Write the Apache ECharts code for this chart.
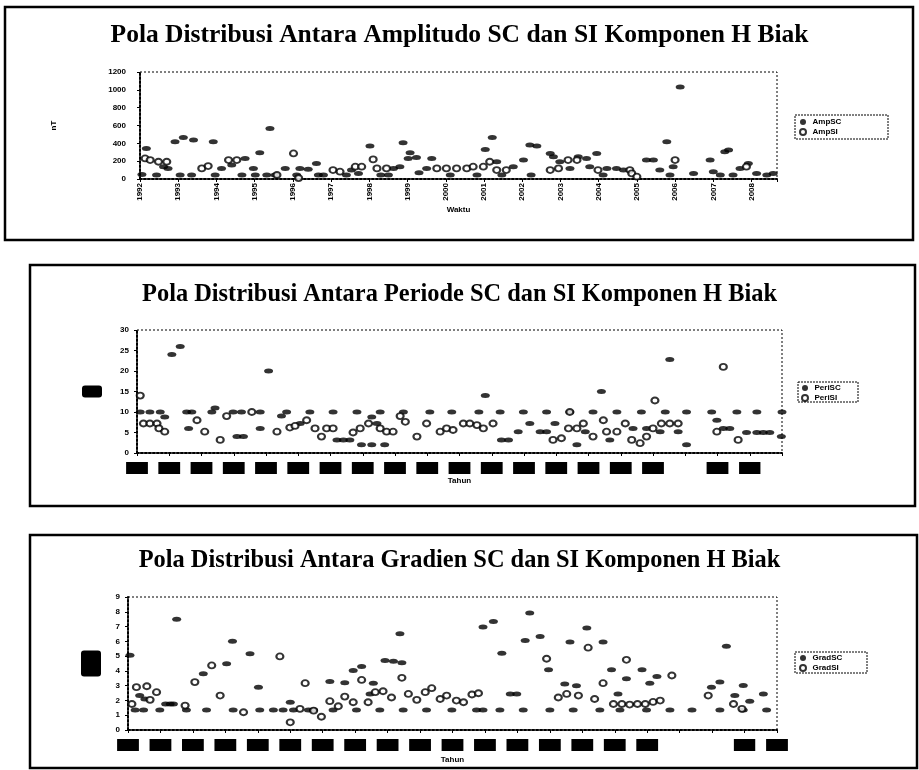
<!DOCTYPE html>
<html>
<head>
<meta charset="utf-8">
<title>Pola Distribusi SC dan SI Komponen H Biak</title>
<script src="https://cdn.jsdelivr.net/npm/echarts@6/dist/echarts.min.js"></script>
<style>
  html, body { margin: 0; padding: 0; background: #fff; }
  #chart { width: 919px; height: 770px; }
</style>
</head>
<body>
<div id="chart"></div>
<script>
// data: [posisi kejadian (0-100), nilai]
const ampSC = [[0.3,50],[1.0,343],[2.6,45],[3.7,138],[4.4,119],[5.5,417],[6.3,45],[6.8,465],[8.1,45],[8.4,436],
  [11.5,417],[11.8,45],[12.8,119],[14.4,156],[16.0,45],[16.5,231],[17.8,119],[18.1,45],[18.8,294],[19.9,45],
  [20.4,566],[21.2,45],[22.8,119],[24.6,45],[25.1,119],[26.4,108],[27.7,175],[28.0,45],[28.8,45],[32.4,45],
  [33.2,100],[34.3,63],[36.1,369],[37.8,45],[39.0,45],[39.8,119],[40.8,138],[41.3,406],[42.1,231],[42.4,294],
  [43.4,242],[43.8,71],[45.0,119],[45.8,231],[48.7,45],[52.9,45],[54.2,331],[55.3,465],[56.0,194],[56.8,45],
  [58.6,138],[60.2,212],[61.2,380],[61.4,45],[62.3,369],[64.4,287],[64.9,250],[65.9,194],[67.5,119],[68.8,250],
  [70.1,231],[70.6,138],[71.7,287],[72.7,45],[73.3,119],[74.8,119],[75.9,100],[79.5,212],[80.6,212],[81.6,100],
  [82.7,417],[83.2,45],[83.7,138],[84.8,1031],[86.9,63],[89.5,212],[90.0,82],[91.1,45],[91.8,305],[92.4,324],
  [93.1,45],[94.2,119],[95.5,175],[96.8,63],[98.4,45],[99.4,63]]
const ampSI = [[0.8,231],[1.6,212],[2.9,194],[4.2,194],[9.7,119],[10.7,145],[13.9,212],[15.2,212],[21.5,45],[24.1,287],
  [24.9,10],[30.3,100],[31.4,82],[33.8,138],[34.8,138],[36.6,220],[37.2,119],[38.7,119],[46.6,119],[48.1,119],
  [49.7,119],[51.3,119],[52.3,138],[53.9,138],[54.9,194],[56.0,100],[57.5,100],[64.4,100],[65.7,119],[67.2,212],
  [68.6,212],[71.9,100],[76.9,100],[77.2,63],[78.0,26],[84.0,212],[95.2,138]]

const periSC = [[0.5,10],[2.0,10],[3.6,10],[7.7,10],[8.5,10],[11.6,10],[14.9,10],[16.2,10],[19.1,10],[23.2,10],
  [26.8,10],[30.4,10],[34.1,10],[37.7,10],[41.3,10],[45.4,10],[48.8,10],[53.0,10],[56.3,10],[59.9,10],
  [63.5,10],[67.1,10],[70.7,10],[74.4,10],[78.2,10],[81.9,10],[85.2,10],[89.1,10],[93.0,10],[96.1,10],[100,10],
  [4.3,8.8],[5.4,24],[6.7,26],[8.0,6],[12.1,11],[15.5,4],[16.5,4],[19.1,6],[20.4,20],[22.4,9],
  [25.3,7.2],[31.0,3.2],[32.0,3.2],[33.0,3.2],[34.8,2],[36.4,2],[36.4,8.8],[37.2,7.2],[38.4,2],[54.0,14],
  [56.5,3.2],[57.6,3.2],[59.1,5.2],[60.9,7.2],[62.5,5.2],[63.5,5.2],[64.8,7.2],[68.2,2],[69.5,5.2],[72.0,15],
  [73.3,3.2],[76.9,6],[79.0,6],[81.1,5.2],[82.6,22.8],[83.9,5.2],[85.2,2],[89.9,8],[90.9,6],[91.9,6],
  [94.5,5],[96.1,5],[97.1,5],[98.1,5],[99.9,4]]
const periSI = [[0.5,14],[1.0,7.2],[2.0,7.2],[3.1,7.2],[3.4,6],[4.3,5.2],[9.3,8],[10.5,5.2],[12.9,3.2],[13.9,9],
  [17.8,10],[21.7,5.2],[23.7,6.2],[24.5,6.6],[26.3,8],[27.6,6],[28.6,4],[29.4,6],[30.4,6],[33.5,5],
  [34.6,6],[35.9,7.2],[37.7,6],[38.7,5.2],[39.7,5.2],[40.8,9],[41.6,7.6],[43.4,4],[44.9,7.2],[47.0,5.2],
  [48.0,6],[49.0,5.6],[50.6,7.2],[51.6,7.2],[52.7,6.8],[53.7,6],[55.2,7.2],[64.5,3.2],[65.8,3.6],[66.9,6],
  [67.1,10],[68.2,6],[69.2,7.2],[70.7,4],[72.3,8],[72.8,5.2],[74.4,5.2],[75.7,7.2],[76.7,3.2],[78.0,2.4],
  [79.0,4],[80.0,6],[80.3,12.8],[81.3,7.2],[82.6,7.2],[83.9,7.2],[89.9,5.2],[90.9,21],[93.2,3.2]]

const gradSC = [[1.1,1.36],[2.4,1.36],[4.9,1.36],[9.0,1.36],[12.1,1.36],[16.2,1.36],[20.3,1.36],[22.4,1.36],[23.9,1.36],
  [25.5,1.36],[27.8,1.36],[28.6,1.36],[31.6,1.36],[35.2,1.36],[38.8,1.36],[42.4,1.36],[46.0,1.36],[49.9,1.36],
  [53.7,1.36],[54.7,1.36],[57.3,1.36],[60.9,1.36],[65.0,1.36],[68.6,1.36],[72.7,1.36],[75.8,1.36],[79.9,1.36],
  [83.5,1.36],[86.9,1.36],[91.2,1.36],[94.8,1.36],[98.4,1.36],
  [0.3,5.05],[1.8,2.33],[2.6,2.1],[5.8,1.76],[6.5,1.76],[7.0,1.76],[7.5,7.49],[11.6,3.8],[15.2,4.48],[16.1,6.0],
  [18.8,5.16],[20.1,2.9],[25.0,1.88],[31.1,3.28],[33.4,3.19],[34.7,4.03],[36.0,4.3],[37.3,2.44],[37.8,3.17],[39.6,4.71],
  [40.9,4.66],[41.9,6.52],[42.2,4.55],[54.7,6.97],[56.3,7.35],[57.6,5.2],[58.9,2.44],[59.9,2.44],[61.2,6.06],[61.9,7.92],
  [63.5,6.33],[64.8,4.07],[67.3,3.12],[68.1,5.95],[69.1,2.99],[70.7,6.9],[73.2,5.95],[74.5,4.07],[75.5,2.44],[76.8,3.46],
  [79.2,4.07],[80.4,3.17],[81.5,3.62],[89.9,2.9],[91.2,3.24],[92.2,5.66],[93.5,2.33],[94.8,3.01],[95.8,1.95],[97.9,2.44]]
const gradSI = [[0.6,1.76],[1.3,2.9],[2.9,2.96],[3.4,2.04],[4.4,2.56],[8.8,1.65],[10.3,3.24],[12.9,4.37],[14.2,2.33],[17.8,1.2],
  [23.4,4.98],[25.0,0.52],[26.5,1.43],[27.3,3.17],[28.6,1.31],[29.8,0.9],[31.1,1.95],[32.4,1.61],[33.4,2.26],[34.7,1.88],
  [36.0,3.39],[37.0,1.88],[38.1,2.56],[39.3,2.62],[40.6,2.2],[42.2,3.53],[43.2,2.44],[44.5,2.04],[45.8,2.56],[46.8,2.83],
  [48.1,2.1],[49.1,2.33],[50.6,1.99],[51.7,1.88],[53.0,2.4],[54.0,2.49],[64.5,4.82],[66.3,2.2],[67.6,2.44],[69.4,2.33],
  [70.9,5.57],[71.9,2.1],[73.2,3.17],[74.8,1.76],[76.1,1.76],[76.8,4.75],[77.3,1.72],[78.5,1.76],[79.7,1.76],[80.9,1.9],
  [82.0,1.99],[83.8,3.69],[89.4,2.33],[93.3,1.76],[94.6,1.43]]

// label sumbu x (grafik 2 dan 3 hasil scan tertutup hitam)
const waktuLabels = ['1992','1993','1994','1995','1996','1997','1998','1999','2000','2001','2002','2003','2004','2005','2006','2007','2008']
const tahunLabels2 = ['1992','1993','1994','1995','1996','1997','1998','1999','2000','2001','2002','2003','2004','2005','2006','2007','2008','','2010','2011','']
const tahunLabels3 = ['1992','1993','1994','1995','1996','1997','1998','1999','2000','2001','2002','2003','2004','2005','2006','2007','2008','','','2011','2012']

// posisi grid (px)
const grids = [
  { left: 140, top: 72, width: 637, height: 107 },
  { left: 137, top: 330, width: 645, height: 123 },
  { left: 128, top: 597, width: 649, height: 133 }
]

const sans = 'Liberation Sans'
const serif = 'Liberation Serif'

function labelFrom (list, step, boxed) {
  return function (v) {
    const i = v / step
    if (Math.abs(i - Math.round(i)) > 1e-6) return ''
    const s = list[Math.round(i)] || ''
    if (!s) return ''
    return boxed ? '{b|' + s + '}' : s
  }
}

function xAxis (idx, step, list, name, gap, boxed) {
  const label = {
    fontFamily: sans, fontSize: 8, fontWeight: 'bold', color: '#000',
    formatter: labelFrom(list, step, boxed)
  }
  if (boxed) {
    label.margin = 9
    label.rich = {
      b: { backgroundColor: '#000', color: '#000', padding: [2, 2], fontSize: 8, fontWeight: 'bold', fontFamily: sans }
    }
  } else {
    label.rotate = 90
    label.margin = 4
  }
  return {
    type: 'value', gridIndex: idx, min: 0, max: 100, interval: step,
    name: name, nameLocation: 'middle', nameGap: gap,
    nameTextStyle: { fontFamily: sans, fontSize: 8, fontWeight: 'bold', color: '#000' },
    axisLine: { lineStyle: { color: '#000', width: 2, type: 'dotted' } },
    axisTick: { show: true, length: 3, lineStyle: { color: '#000' } },
    splitLine: { show: false },
    axisLabel: label
  }
}

function yAxis (idx, max, step, name, gap, rotate, margin, boxed) {
  const nameStyle = { fontFamily: sans, fontSize: 8, fontWeight: 'bold', color: '#000' }
  if (boxed) {
    nameStyle.backgroundColor = '#000'
    nameStyle.borderRadius = 3
    nameStyle.padding = boxed
    nameStyle.fontSize = 6
    nameStyle.lineHeight = 8
  }
  return {
    type: 'value', gridIndex: idx, min: 0, max: max, interval: step,
    name: name, nameLocation: 'middle', nameGap: gap, nameRotate: rotate,
    nameTextStyle: nameStyle,
    axisLine: { show: true, lineStyle: { color: '#000', width: 2, type: 'dotted' } },
    axisTick: { show: true, length: 3, lineStyle: { color: '#000' } },
    splitLine: { show: false },
    axisLabel: {
      fontFamily: sans, fontSize: 8, fontWeight: 'bold', color: '#000', margin: margin,
      formatter: function (v) { return String(v) }
    }
  }
}

function scFilled (name, idx, data) {
  return {
    name: name, type: 'scatter', xAxisIndex: idx, yAxisIndex: idx, data: data,
    symbol: 'circle', symbolSize: [9, 5],
    itemStyle: { color: '#000' }
  }
}
function siOpen (name, idx, data) {
  return {
    name: name, type: 'scatter', xAxisIndex: idx, yAxisIndex: idx, data: data,
    symbol: 'circle', symbolSize: [7, 6],
    itemStyle: { color: '#fff', borderColor: '#000', borderWidth: 2 }
  }
}

function box (x, y, w, h, width, dash) {
  return {
    type: 'rect', silent: true, z: -1,
    shape: { x: x, y: y, width: w, height: h },
    style: { fill: 'none', stroke: '#000', lineWidth: width, lineDash: dash || null }
  }
}

function titleAt (text, top, size) {
  return {
    text: text, left: 'center', top: top,
    textStyle: { fontFamily: serif, fontSize: size, fontWeight: 'bold', color: '#000' }
  }
}

function legendAt (names, left, top) {
  return {
    data: names, orient: 'vertical', left: left, top: top,
    itemGap: 2, itemWidth: 9, itemHeight: 6, padding: 0,
    textStyle: { fontFamily: sans, fontSize: 8, fontWeight: 'bold', color: '#000' }
  }
}

const chart = echarts.init(document.getElementById('chart'))
const option = {
  backgroundColor: '#fff',
  animation: false,
  title: [
    titleAt('Pola Distribusi Antara Amplitudo SC dan SI Komponen H Biak', 17, 25.5),
    titleAt('Pola Distribusi Antara Periode SC dan SI Komponen H Biak', 278, 24.4),
    titleAt('Pola Distribusi Antara Gradien SC dan SI Komponen H Biak', 544, 24.4)
  ],
  legend: [
    legendAt(['AmpSC', 'AmpSI'], 799, 118),
    legendAt(['PeriSC', 'PeriSI'], 801, 384),
    legendAt(['GradSC', 'GradSI'], 799, 654)
  ],
  grid: grids,
  xAxis: [
    xAxis(0, 6, waktuLabels, 'Waktu', 27, false),
    xAxis(1, 5, tahunLabels2, 'Tahun', 24, true),
    xAxis(2, 5, tahunLabels3, 'Tahun', 26, true)
  ],
  yAxis: [
    yAxis(0, 1200, 200, 'nT', 82, 90, 14, null),
    yAxis(1, 30, 5, 'menit', 35, 0, 8, [2, 2]),
    yAxis(2, 9, 1, 'nT/\nmenit', 27, 0, 8, [5, 2])
  ],
  series: [
    scFilled('AmpSC', 0, ampSC),
    siOpen('AmpSI', 0, ampSI),
    scFilled('PeriSC', 1, periSC),
    siOpen('PeriSI', 1, periSI),
    scFilled('GradSC', 2, gradSC),
    siOpen('GradSI', 2, gradSI)
  ],
  graphic: [
    // bingkai luar
    box(5, 7, 908, 233, 2.5),
    box(30, 265, 885, 241, 2.5),
    box(30, 535, 887, 233, 2.5),
    // bingkai area plot (putus-putus)
    box(140, 72, 637, 107, 1, [2, 2]),
    box(137, 330, 645, 123, 1, [2, 2]),
    box(128, 597, 649, 133, 1, [2, 2]),
    // bingkai legenda
    box(795, 115, 93, 24, 1, [2, 1]),
    box(798, 382, 60, 20, 1, [2, 1]),
    box(795, 652, 72, 21, 1, [2, 1])
  ]
}
chart.setOption(option)
</script>
</body>
</html>
